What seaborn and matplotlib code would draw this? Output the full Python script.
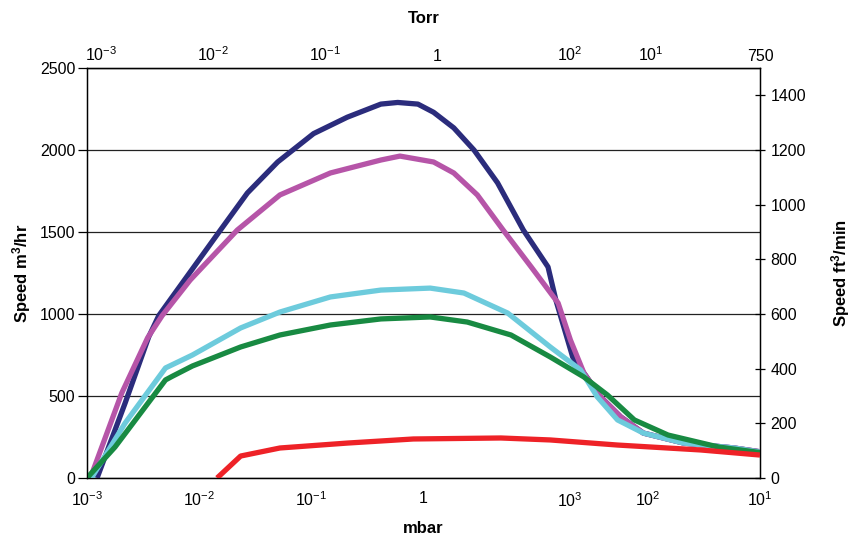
import numpy as np
import pandas as pd
import matplotlib
matplotlib.use('Agg')
import matplotlib.pyplot as plt
import matplotlib.transforms as mtransforms
from matplotlib.ticker import LogLocator, NullLocator, NullFormatter
import seaborn as sns

# pressure in mbar, speed in m3/hr
navy_x = [10**-2.91, 10**-2.66, 10**-2.45, 10**-2.36, 10**-1.81, 10**-1.57, 10**-1.30, 10**-0.98,
          10**-0.68, 10**-0.38, 10**-0.23, 10**-0.05, 10**0.09, 10**0.27, 10**0.45, 10**0.66,
          10**0.89, 10**1.11, 10**1.18, 10**1.33, 10**1.43, 10**1.58, 10**1.76, 10**1.96,
          10**2.32, 10**2.77, 10**3.0]
navy_y = [0, 457, 860, 990, 1512, 1738, 1927, 2100, 2200, 2280, 2290, 2280, 2230, 2135, 2000, 1800,
          1512, 1287, 1085, 738, 640, 494, 372, 274, 213, 183, 160]

magenta_x = [10**-2.97, 10**-2.69, 10**-2.46, 10**-2.33, 10**-2.08, 10**-1.66, 10**-1.28, 10**-0.83,
             10**-0.38, 10**-0.21, 10**0.09, 10**0.27, 10**0.48, 10**0.71, 10**0.96, 10**1.20,
             10**1.31, 10**1.43, 10**1.58, 10**1.76, 10**1.96, 10**2.32, 10**2.77, 10**3.0]
magenta_y = [0, 518, 854, 990, 1207, 1512, 1726, 1860, 1939, 1963, 1927, 1860, 1726, 1512, 1287, 1067,
             841, 640, 494, 372, 274, 213, 183, 160]

cyan_x = [10**-2.96, 10**-2.66, 10**-2.30, 10**-2.06, 10**-1.63, 10**-1.28, 10**-0.83, 10**-0.38,
          10**0.06, 10**0.36, 10**0.75, 10**1.13, 10**1.40, 10**1.55, 10**1.73, 10**1.96, 10**2.32,
          10**2.77, 10**3.0]
cyan_y = [0, 335, 671, 750, 915, 1012, 1104, 1146, 1158, 1128, 1006, 799, 659, 494, 354, 274, 213,
          183, 158]

green_x = [10**-3.0, 10**-2.75, 10**-2.30, 10**-2.24, 10**-2.06, 10**-1.63, 10**-1.28, 10**-0.83,
           10**-0.38, 10**0.06, 10**0.39, 10**0.78, 10**1.13, 10**1.43, 10**1.64, 10**1.88,
           10**2.18, 10**2.63, 10**3.0]
green_y = [0, 189, 598, 620, 683, 799, 872, 933, 970, 982, 951, 872, 738, 616, 506, 354, 262, 189, 155]

red_x = [10**-1.84, 10**-1.63, 10**-1.28, 10**-0.68, 10**-0.09, 10**0.69, 10**1.13, 10**1.73,
         10**2.47, 10**3.0]
red_y = [0, 134, 183, 213, 238, 244, 232, 201, 171, 140]

mbar_ticks = [1e-3, 1e-2, 1e-1, 1, 10, 100, 1000]
mbar_labels = [r'$10^{-3}$', r'$10^{-2}$', r'$10^{-1}$', '1', '', r'$10^{2}$', r'$10^{1}$']
torr_ticks = [1e-3, 1e-2, 1e-1, 1, 15, 80, 750]
torr_labels = [r'$10^{-3}$', r'$10^{-2}$', r'$10^{-1}$', '1', r'$10^{2}$', r'$10^{1}$', '750']

sns.set_style('white')
plt.rcParams['font.family'] = ['Liberation Sans', 'DejaVu Sans']
plt.rcParams['mathtext.fontset'] = 'custom'
plt.rcParams['mathtext.rm'] = 'Liberation Sans'
plt.rcParams['mathtext.default'] = 'regular'
plt.rcParams['text.color'] = 'black'
plt.rcParams['axes.labelcolor'] = 'black'
plt.rcParams['xtick.color'] = 'black'
plt.rcParams['ytick.color'] = 'black'

fig = plt.figure(figsize=(8.62, 5.36), dpi=100)
ax = fig.add_axes([0.1009, 0.1082, 0.7808, 0.7649])

series = [
    (navy_x, navy_y, '#2B2C7C'),
    (magenta_x, magenta_y, '#B655A8'),
    (cyan_x, cyan_y, '#6DCBDC'),
    (green_x, green_y, '#188A42'),
    (red_x, red_y, '#EE2227'),
]
for xs, ys, c in series:
    sns.lineplot(x=xs, y=ys, ax=ax, color=c, lw=3.8, solid_capstyle='butt',
                 solid_joinstyle='round', zorder=3)

ax.set_xscale('log')
ax.set_xlim(1e-3, 1e3)
ax.set_ylim(0, 2500)
ax.set_yticks([0, 500, 1000, 1500, 2000, 2500])
ax.yaxis.grid(True, color='#222222', lw=0.9)
ax.xaxis.grid(False)
for s in ax.spines.values():
    s.set_color('black')
    s.set_linewidth(1.0)

fs = 11.5
ax.set_xticks(mbar_ticks, mbar_labels)
ax.xaxis.set_minor_locator(LogLocator(base=10, subs=np.arange(2, 10)))
ax.xaxis.set_minor_formatter(NullFormatter())
ax.tick_params(axis='x', which='major', direction='in', length=5.5, width=0.9, labelsize=fs, pad=9)
ax.tick_params(axis='x', which='minor', direction='in', length=4, width=0.8)
ax.tick_params(axis='y', direction='out', length=6.5, width=0.9, labelsize=fs, left=True, pad=2)
trans = mtransforms.blended_transform_factory(ax.transData, ax.transAxes)
ax.text(20, -0.033, r'$10^{3}$', transform=trans, ha='center', va='top', fontsize=fs)

ax.set_xlabel('mbar', fontsize=12, fontweight='bold')
ax.xaxis.set_label_coords(0.5, -0.104)
ax.set_ylabel('Speed m$^3$/hr', fontsize=12, fontweight='bold')
ax.yaxis.set_label_coords(-0.080, 0.5)

secax = ax.secondary_xaxis('top', functions=(lambda x: x * 0.75, lambda x: x / 0.75))
secax.set_xticks(torr_ticks, torr_labels)
secax.xaxis.set_minor_locator(NullLocator())
secax.tick_params(length=0, labelsize=fs, pad=3)
secax.set_xlabel('Torr', fontsize=12, fontweight='bold', labelpad=16)

ax2 = ax.twinx()
ax2.set_ylim(0, 1500)
ax2.set_yticks(range(0, 1401, 200))
ax2.tick_params(axis='y', direction='inout', length=7, width=0.9, labelsize=fs, right=True, pad=4)
ax2.grid(False)
ax2.set_ylabel('Speed ft$^3$/min', fontsize=12, fontweight='bold')
ax2.yaxis.set_label_coords(1.1025, 0.5)
for s in ax2.spines.values():
    s.set_color('black')

fig.savefig('out.png', dpi=100)
